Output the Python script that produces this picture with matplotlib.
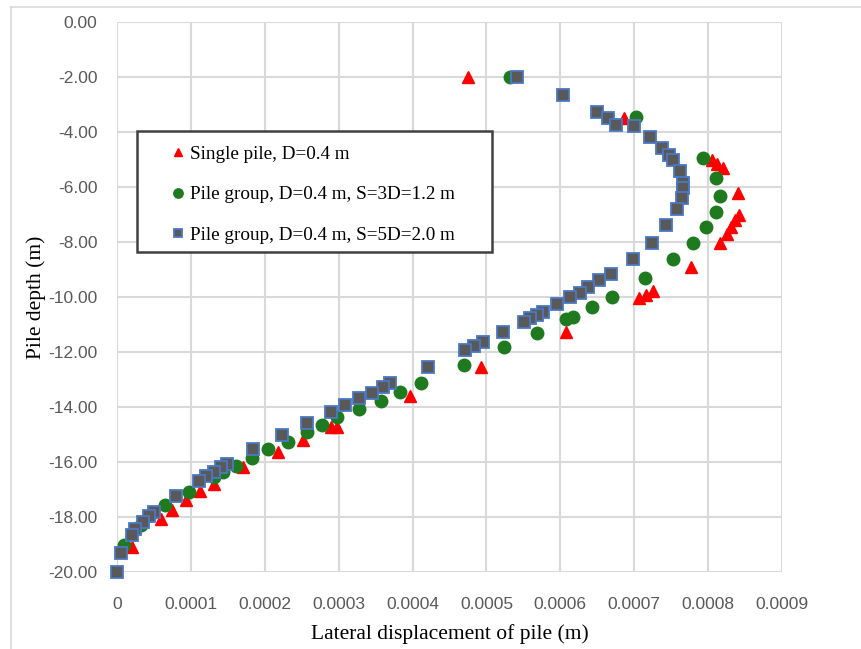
import matplotlib.pyplot as plt
from matplotlib.patches import Rectangle
from matplotlib.ticker import FuncFormatter, MultipleLocator

# Single pile, D=0.4 m
x_single = [0.000475, 0.000686, 0.000805, 0.000812, 0.00082, 0.00084,
            0.000842, 0.000836, 0.000831, 0.000825, 0.000816, 0.000777,
            0.000726, 0.000716, 0.000707, 0.000608, 0.000493, 0.000396,
            0.000298, 0.00029, 0.000252, 0.000218, 0.000171, 0.000131,
            0.000112, 0.000093, 0.000075, 0.00006, 0.00002]
y_single = [-2.0, -3.5, -5.0, -5.15, -5.3, -6.2,
            -7.0, -7.2, -7.45, -7.7, -8.05, -8.92,
            -9.77, -9.93, -10.05, -11.28, -12.56, -13.6,
            -14.72, -14.72, -15.2, -15.62, -16.18, -16.8,
            -17.06, -17.4, -17.76, -18.08, -19.1]

# Pile group, S=3D=1.2 m
x_3d = [0.000532, 0.000703, 0.000793, 0.000811, 0.000816, 0.00081,
        0.000797, 0.000779, 0.000752, 0.000714, 0.00067, 0.000643,
        0.000617, 0.000608, 0.000568, 0.000524, 0.000469, 0.000411,
        0.000383, 0.000357, 0.000327, 0.000298, 0.000277, 0.000257,
        0.000231, 0.000205, 0.000183, 0.000161, 0.000144, 0.000131,
        0.000097, 0.0000655, 0.000045, 0.000032, 0.000009]
y_3d = [-2.0, -3.44, -4.96, -5.69, -6.33, -6.92,
        -7.44, -8.02, -8.63, -9.3, -9.99, -10.38,
        -10.71, -10.81, -11.32, -11.83, -12.47, -13.11,
        -13.44, -13.77, -14.08, -14.38, -14.65, -14.9,
        -15.26, -15.54, -15.85, -16.15, -16.35, -16.53,
        -17.08, -17.56, -17.93, -18.29, -19.02]

# Pile group, S=5D=2.0 m
x_5d = [0.000541, 0.000603, 0.00065, 0.000664, 0.000675, 0.0007,
        0.000722, 0.000738, 0.000747, 0.000753, 0.000762, 0.000766,
        0.000766, 0.000764, 0.000758, 0.000743, 0.000724, 0.000698,
        0.000668, 0.000653, 0.000638, 0.000626, 0.000613, 0.000596,
        0.000577, 0.000568, 0.000559, 0.000551, 0.000523, 0.000496,
        0.000483, 0.000471, 0.000421, 0.00037, 0.00036, 0.000345,
        0.000327, 0.000309, 0.000289, 0.000257, 0.000223, 0.000184,
        0.000149, 0.000141, 0.000131, 0.000121, 0.000111, 0.00008,
        0.00005, 0.000043, 0.000035, 0.000025, 0.0000205, 0.0000057, 0.0]
y_5d = [-2.0, -2.65, -3.26, -3.5, -3.75, -3.78,
        -4.17, -4.59, -4.84, -5.0, -5.41, -5.87,
        -6.05, -6.41, -6.81, -7.38, -8.02, -8.6,
        -9.15, -9.39, -9.63, -9.84, -10.01, -10.25,
        -10.53, -10.65, -10.78, -10.9, -11.26, -11.63,
        -11.78, -11.93, -12.56, -13.14, -13.26, -13.5,
        -13.69, -13.93, -14.17, -14.59, -15.02, -15.54,
        -16.07, -16.19, -16.35, -16.51, -16.68, -17.24,
        -17.81, -17.96, -18.17, -18.45, -18.65, -19.32, -20.0]

labels = ['Single pile, D=0.4 m',
          'Pile group, D=0.4 m, S=3D=1.2 m',
          'Pile group, D=0.4 m, S=5D=2.0 m']

W, H = 861, 649
fig = plt.figure(figsize=(W/100, H/100), dpi=100)
ax = fig.add_axes([117/W, 1-572/H, (782-117)/W, (572-22)/H])

ax.plot(x_single, y_single, ls='none', marker='^', ms=8.5, color='#ff0000',
        mec='#ff0000', label=labels[0], zorder=4, clip_on=False)
ax.plot(x_3d, y_3d, ls='none', marker='o', ms=9, color='#1f7a1f',
        mec='#1f7a1f', label=labels[1], zorder=5, clip_on=False)
ax.plot(x_5d, y_5d, ls='none', marker='s', ms=8, color='#595959',
        mec='#4a78c6', mew=1.3, label=labels[2], zorder=6, clip_on=False)

ax.set_xlim(0, 0.0009)
ax.set_ylim(-20, 0)
ax.xaxis.set_major_locator(MultipleLocator(0.0001))
ax.yaxis.set_major_locator(MultipleLocator(2))
ax.xaxis.set_major_formatter(FuncFormatter(lambda v, p: '0' if abs(v) < 1e-12 else f'{v:.4f}'))
ax.yaxis.set_major_formatter(FuncFormatter(lambda v, p: f'{v:.2f}'))

ax.grid(True, color='#d9d9d9', lw=1.5)
ax.set_axisbelow(True)
for s in ax.spines.values():
    s.set_visible(False)
ax.tick_params(length=0, labelsize=12.5, labelcolor='#595959')
ax.tick_params(axis='x', pad=18)
ax.tick_params(axis='y', pad=14)
for lab in ax.get_xticklabels() + ax.get_yticklabels():
    lab.set_family('Liberation Sans')

ax.set_xlabel('Lateral displacement of pile (m)', family='Liberation Serif',
              fontsize=15.5, labelpad=9)
ax.set_ylabel('Pile depth (m)', family='Liberation Serif', fontsize=15.5,
              labelpad=2)

# legend box (white, covers grid)
box = Rectangle((137/W, 1-252/H), 355/W, 121/H, transform=fig.transFigure,
                facecolor='white', edgecolor='#404040', lw=1.8, zorder=7)
ax.add_patch(box)
leg = ax.legend(loc='upper left', bbox_to_anchor=(162/W, 1-136/H),
                bbox_transform=fig.transFigure, frameon=False,
                prop={'family': 'Liberation Serif', 'size': 13.8},
                handlelength=0.7, handletextpad=0.25, labelspacing=1.2,
                borderpad=0, markerscale=0.75)
leg.set_zorder(8)

# outer frame of the picture
fig.add_artist(plt.Line2D([11/W, 11/W], [0, 1-7/H], color='#d9d9d9', lw=1.2))
fig.add_artist(plt.Line2D([11/W, 1], [1-7/H, 1-7/H], color='#d9d9d9', lw=1.2))

plt.savefig('out.png', dpi=100)
